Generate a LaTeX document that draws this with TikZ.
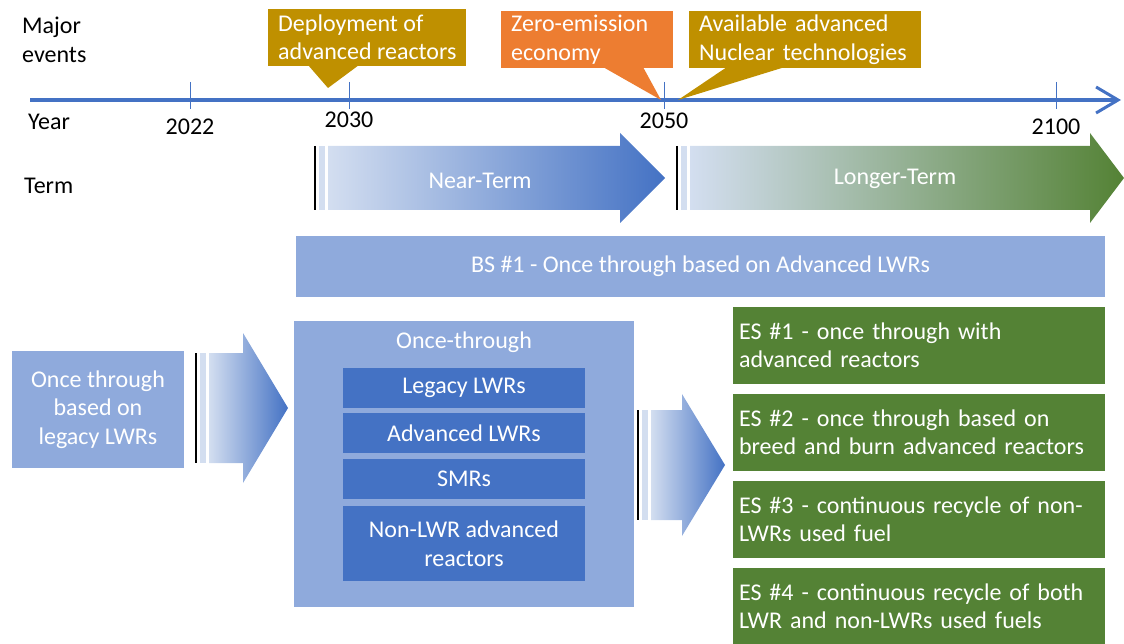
\documentclass[tikz,border=0pt]{standalone}
\usepackage{fontspec}
\setmainfont{Carlito}
\usetikzlibrary{arrows.meta, positioning}

\definecolor{LineBlue}{HTML}{4472C4}
\definecolor{PaleBlue}{HTML}{8FAADC}
\definecolor{StripBlue}{HTML}{D3DEF0}
\definecolor{EventGold}{HTML}{BF9000}
\definecolor{EventOrange}{HTML}{ED7D31}
\definecolor{LeafGreen}{HTML}{548235}

% block arrow with a black bar and a pale strip at its tail
% #1 bar x, #2 head start x, #3 tip x, #4 mid y, #5 half body, #6 half head, #7 end colour
\newcommand{\stripedarrow}[7]{%
  \draw[black, line width=1.3pt] (#1,#4-#5) -- (#1,#4+#5);
  \fill[StripBlue] (#1+4,#4-#5) rectangle (#1+9.5,#4+#5);
  \shade[left color=StripBlue, right color=#7]
    (#1+13,#4-#5) -- (#2,#4-#5) -- (#2,#4-#6) -- (#3,#4) -- (#2,#4+#6)
    -- (#2,#4+#5) -- (#1+13,#4+#5) -- cycle;
}

\begin{document}
\begin{tikzpicture}[x=1pt, y=-1pt, font=\fontsize{24}{28.5}\selectfont]
  \tikzstyle{label} = [inner sep=0, text=black]
  \tikzstyle{callout} = [anchor=west, inner xsep=10, inner ysep=0, minimum height=57, align=left, text=white]
  \tikzstyle{panel} = [fill=PaleBlue, inner sep=0, align=center, text=white]
  \tikzstyle{reactor} = [fill=LineBlue, inner sep=0, minimum width=242, align=center, text=white]
  \tikzstyle{scenario} = [fill=LeafGreen, inner xsep=6, inner ysep=0, text width=360, minimum height=77, align=left, text=white]

  \useasboundingbox (0,0) rectangle (1124,644);

  % Row labels
  \node[label, anchor=west, align=left] (events) at (22,40) {Major\\events};
  \node[label, anchor=west] (year) at (28,122) {Year};
  \node[label, anchor=west] (term) at (24,186) {Term};

  % Timeline
  \coordinate (tstart) at (30,100);
  \coordinate (tend) at (1121,100);
  \foreach \x/\yr/\ly in {190/2022/127, 349/2030/120, 664/2050/121, 1056/2100/127} {
    \draw[LineBlue, line width=0.6pt] (\x,82) -- (\x,109);
    \node[label] (y\yr) at (\x,\ly) {\yr};
  }
  \draw[LineBlue, line width=3.5pt, -{Straight Barb[length=22pt, width=26pt, line width=3pt]}] (tstart) -- (tend);

  % Events
  \node[callout, fill=EventGold] (deploy) at (268,37.5) {Deployment of\\advanced reactors};
  \fill[EventGold] (308,65) -- (328,88) -- (359,65) -- cycle;
  \node[callout, fill=EventOrange, text width=152] (zero) at (501,39.5) {Zero-emission\\economy};
  \fill[EventOrange] (603,67) -- (661,100) -- (643,67) -- cycle;
  \node[callout, fill=EventGold, text width=212] (avail) at (689,39.5) {Available advanced\\Nuclear technologies};
  \fill[EventGold] (727,67) -- (678,100) -- (785,67) -- cycle;

  % Terms
  \stripedarrow{315}{620}{665}{178}{32}{45}{LineBlue}
  \node[text=white] (near) at (480,181) {Near-Term};
  \stripedarrow{677}{1090}{1124}{178}{32}{45}{LeafGreen}
  \node[text=white] (longer) at (895,179) {Longer-Term};

  % Baseline scenario
  \node[panel, minimum width=809, minimum height=61] (bs) at (700.5,266.5) {BS \#1 - Once through based on Advanced LWRs};

  % Current fleet
  \node[panel, minimum width=172, minimum height=117] (legacy) at (98,409.5) {Once through\\based on\\legacy LWRs};
  \stripedarrow{196}{243}{288}{408}{55}{75}{LineBlue}

  % Once-through options
  \node[panel, minimum width=340, minimum height=286] (once) at (464,464) {};
  \node[text=white, inner sep=0] (otitle) at (464,342) {Once-through};
  \node[reactor, minimum height=40] (lwr) at (464,388) {Legacy LWRs};
  \node[reactor, minimum height=40, below=5pt of lwr] (alwr) {Advanced LWRs};
  \node[reactor, minimum height=40, below=5pt of alwr] (smr) {SMRs};
  \node[reactor, minimum height=75, below=7pt of smr] (nonlwr) {Non-LWR advanced\\reactors};
  \stripedarrow{638}{682}{725}{465}{55}{71}{LineBlue}

  % Evolution scenarios
  \node[scenario] (es1) at (919,345.5) {ES \#1 - once through with\\advanced reactors};
  \node[scenario] (es2) at (919,432.5) {ES \#2 - once through based on\\breed and burn advanced reactors};
  \node[scenario] (es3) at (919,519.5) {ES \#3 - continuous recycle of non-\\LWRs used fuel};
  \node[scenario] (es4) at (919,606.5) {ES \#4 - continuous recycle of both\\LWR and non-LWRs used fuels};
\end{tikzpicture}
\end{document}
